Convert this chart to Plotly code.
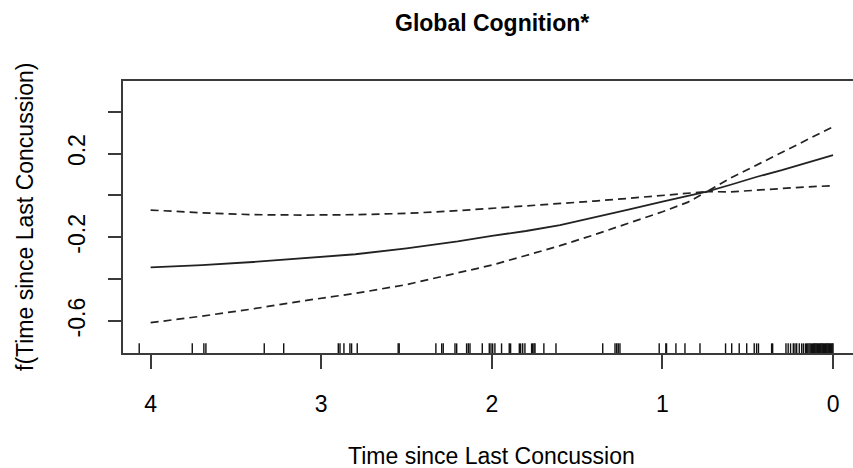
import plotly.graph_objects as go

# ---- data ----
time_grid = [4.0, 3.7, 3.4, 3.1, 2.8, 2.5, 2.2, 2.0, 1.8, 1.6, 1.4, 1.2, 1.0, 0.85, 0.74, 0.6, 0.45, 0.3, 0.15, 0.0]
fit = [-0.344, -0.333, -0.318, -0.300, -0.281, -0.253, -0.220, -0.193, -0.170, -0.142, -0.106, -0.068, -0.030, -0.003, 0.018, 0.051, 0.088, 0.121, 0.157, 0.193]
upper = [-0.070, -0.083, -0.092, -0.094, -0.092, -0.086, -0.073, -0.062, -0.051, -0.040, -0.027, -0.014, -0.001, 0.008, 0.018, 0.083, 0.144, 0.205, 0.267, 0.328]
lower = [-0.608, -0.577, -0.542, -0.503, -0.468, -0.426, -0.370, -0.333, -0.287, -0.240, -0.188, -0.134, -0.078, -0.032, 0.018, 0.017, 0.025, 0.035, 0.041, 0.046]

rug_times = [4.067, 3.756, 3.688, 3.676, 3.334, 3.220, 2.900, 2.890, 2.867, 2.832, 2.822, 2.789,
             2.549, 2.543, 2.328, 2.294, 2.285, 2.216, 2.206, 2.148, 2.138, 2.128, 2.056, 2.015,
             2.005, 1.995, 1.982, 1.943, 1.898, 1.890, 1.839, 1.831, 1.819, 1.806, 1.767, 1.761,
             1.753, 1.747, 1.695, 1.624, 1.350, 1.278, 1.268, 1.259, 1.249, 1.019, 0.980, 0.976,
             0.921, 0.868, 0.780, 0.630, 0.594, 0.550, 0.506, 0.462, 0.448, 0.437, 0.360, 0.354,
             0.276, 0.263, 0.249, 0.233, 0.223, 0.213, 0.198, 0.184, 0.174, 0.162, 0.155, 0.148,
             0.141, 0.134, 0.127, 0.120, 0.115, 0.110, 0.105, 0.100, 0.095, 0.090, 0.085, 0.080,
             0.075, 0.070, 0.065, 0.060, 0.055, 0.050, 0.045, 0.040, 0.035, 0.030, 0.025, 0.020,
             0.015, 0.010, 0.005, 0.000]

x_ticks = [4, 3, 2, 1, 0]
x_tick_labels = ["4", "3", "2", "1", "0"]
y_ticks = [0.4, 0.2, 0.0, -0.2, -0.4, -0.6]
y_tick_labels = ["", "0.2", "", "-0.2", "", "-0.6"]

title_text = "<b>Global Cognition*</b>"
x_title = "Time since Last Concussion"
y_title = "f(Time since Last Concussion)"

# ---- styling / layout constants ----
X_RANGE = [4.162, -0.117]
Y_RANGE = [-0.7529, 0.5467]
RUG_H = 0.046
FONT = "Liberation Sans, Arial, sans-serif"
AX_COL = "#3a3a3a"

rug_x, rug_y = [], []
for t in rug_times:
    rug_x += [t, t, None]
    rug_y += [Y_RANGE[0], Y_RANGE[0] + RUG_H, None]

fig = go.Figure()
fig.add_trace(go.Scatter(x=rug_x, y=rug_y, mode="lines",
                         line=dict(color="#111111", width=1.4), hoverinfo="skip"))
fig.add_trace(go.Scatter(x=time_grid, y=upper, mode="lines",
                         line=dict(color="#222222", width=1.7, dash="8px,5px")))
fig.add_trace(go.Scatter(x=time_grid, y=lower, mode="lines",
                         line=dict(color="#222222", width=1.7, dash="8px,5px")))
fig.add_trace(go.Scatter(x=time_grid, y=fit, mode="lines",
                         line=dict(color="#222222", width=1.8)))

fig.update_layout(
    width=853, height=468,
    margin=dict(l=123, r=0, t=81, b=115),
    paper_bgcolor="white", plot_bgcolor="white",
    showlegend=False,
    font=dict(family=FONT, size=23, color="#000000"),
    xaxis=dict(range=X_RANGE, tickvals=x_ticks, ticktext=x_tick_labels,
               showgrid=False, zeroline=False, showline=True, mirror=True,
               linecolor=AX_COL, linewidth=1.7, ticks="outside", ticklen=14,
               tickwidth=1.6, tickcolor=AX_COL, ticklabelstandoff=16),
    yaxis=dict(range=Y_RANGE, tickvals=y_ticks, ticktext=y_tick_labels,
               showgrid=False, zeroline=False, showline=True, mirror=False,
               linecolor=AX_COL, linewidth=1.7, ticks="outside", ticklen=13,
               tickwidth=1.6, tickcolor=AX_COL, tickangle=-90, ticklabelstandoff=14),
    annotations=[
        dict(text=title_text, xref="x", x=2, yref="paper", y=1, yanchor="top",
             yshift=73, showarrow=False, font=dict(size=23, family=FONT, color="#000")),
        dict(text=x_title, xref="x", x=2, yref="paper", y=0, yanchor="top",
             yshift=-88, showarrow=False, font=dict(size=23, family=FONT, color="#000")),
        dict(text=y_title, xref="paper", x=0, xanchor="center", xshift=-98,
             yref="paper", y=0.5, yanchor="middle", textangle=-90,
             showarrow=False, font=dict(size=23, family=FONT, color="#000")),
    ],
)

fig.write_html("out.html")
